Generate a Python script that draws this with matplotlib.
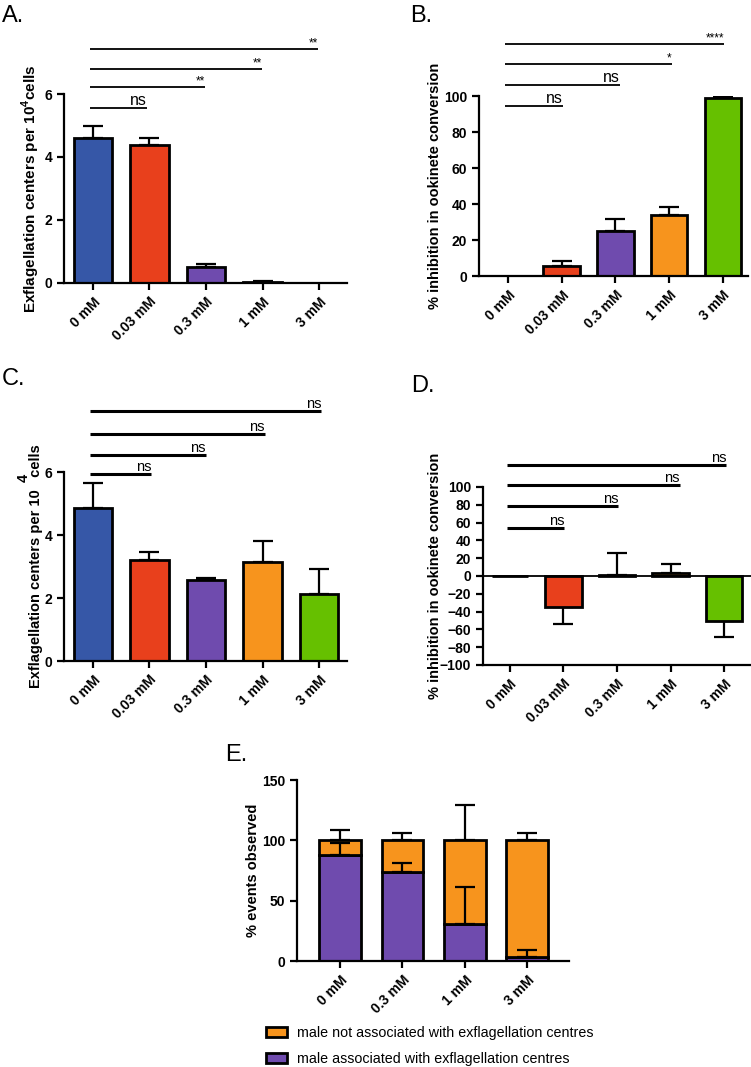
import matplotlib.pyplot as plt
import numpy as np

plt.rcParams['font.family'] = ['Liberation Sans', 'DejaVu Sans']
plt.rcParams['mathtext.fontset'] = 'custom'
plt.rcParams['mathtext.rm'] = 'Liberation Sans'
plt.rcParams['mathtext.bf'] = 'Liberation Sans:bold'

##---- data
doses = ['0 mM', '0.03 mM', '0.3 mM', '1 mM', '3 mM']
doses_e = ['0 mM', '0.3 mM', '1 mM', '3 mM']
colors = ['#3657a7', '#e8401c', '#6f4bae', '#f7941d', '#66c000']
purple = '#6f4bae'
orange = '#f7941d'

# A. exflagellation centres
exfl_a = [4.6, 4.38, 0.5, 0.03, 0.0]
exfl_a_top = [4.97, 4.6, 0.6, 0.05, 0.0]
sig_a_y = [5.56, 6.22, 6.79, 7.43]
sig_a_end = [0.95, 1.98, 2.98, 3.98]
sig_a_txt = ['ns', '**', '**', '**']

# B. % inhibition in ookinete conversion
inh_b = [0, 5.8, 25, 34, 99]
inh_b_top = [0, 8.5, 31.5, 38.5, 99.8]
sig_b_y = [94.4, 106, 117.8, 128.9]
sig_b_end = [1.02, 2.08, 3.05, 4.02]
sig_b_txt = ['ns', 'ns', '*', '****']

# C. exflagellation centres
exfl_c = [4.85, 3.22, 2.58, 3.15, 2.14]
exfl_c_top = [5.65, 3.45, 2.65, 3.8, 2.93]
sig_c_y = [5.94, 6.54, 7.2, 7.94]
sig_c_end = [1.03, 2.0, 3.04, 4.04]
sig_c_txt = ['ns', 'ns', 'ns', 'ns']

# D. % inhibition in ookinete conversion
inh_d = [0, -35, 1, 3, -51]
inh_d_err = [0, -54, 26, 14, -69]
sig_d_y = [54, 79, 102, 125]
sig_d_end = [1.02, 2.02, 3.17, 4.04]
sig_d_txt = ['ns', 'ns', 'ns', 'ns']

# E. % events observed
assoc = [88, 74, 31, 3]
assoc_top = [98, 81, 61, 9]
total_top = [109, 106, 129, 106]

TICK_FS = 10
LABEL_FS = 10.5


def style_axes(ax):
    ax.spines['top'].set_visible(False)
    ax.spines['right'].set_visible(False)
    ax.spines['left'].set_linewidth(1.6)
    ax.spines['bottom'].set_linewidth(1.6)
    ax.tick_params(direction='out', length=5, width=1.6, labelsize=TICK_FS)
    for lbl in ax.get_yticklabels():
        lbl.set_fontweight('bold')


def bar_panel(ax, values, tops):
    x = np.arange(len(values))
    ax.bar(x, values, width=0.68, color=colors[:len(values)], edgecolor='black', linewidth=2, zorder=2)
    values = np.array(values, dtype=float)
    tops = np.array(tops, dtype=float)
    up = np.where(tops > values, tops - values, 0)
    down = np.where(tops < values, values - tops, 0)
    keep = tops != values
    ax.errorbar(x[keep], values[keep], yerr=[down[keep], up[keep]], fmt='none', ecolor='black',
                elinewidth=1.6, capsize=7, capthick=1.6, zorder=1)
    ax.set_xticks(x)
    ax.set_xticklabels(doses, rotation=45, ha='right', rotation_mode='anchor', fontweight='bold', fontsize=TICK_FS)


def sig_lines(ax, ys, ends, texts, lw, fs, start=-0.05):
    for y, e, t in zip(ys, ends, texts):
        ax.plot([start, e], [y, y], color='black', lw=lw, clip_on=False, solid_capstyle='butt')
        ax.text(e, y, t, ha='right', va='bottom', fontsize=fs if t == 'ns' else 8.5, clip_on=False)


fig = plt.figure(figsize=(7.51, 10.67), dpi=100)

##---- A
axA = fig.add_axes([0.0852, 0.7348, 0.3768, 0.1771])
bar_panel(axA, exfl_a, exfl_a_top)
axA.set_xlim(-0.51, 4.49)
axA.set_ylim(0, 6)
axA.set_yticks([0, 2, 4, 6])
style_axes(axA)
sig_lines(axA, sig_a_y, sig_a_end, sig_a_txt, 1.3, 11.5)
axA.set_ylabel(r'Exflagellation centers per 10$^{\mathbf{4}}$cells', fontsize=LABEL_FS + 0.5, fontweight='bold')
axA.yaxis.set_label_coords(-0.078, 0.5)

##---- B
axB = fig.add_axes([0.6378, 0.7413, 0.3582, 0.1687])
bar_panel(axB, inh_b, inh_b_top)
axB.set_xlim(-0.54, 4.47)
axB.set_ylim(0, 100)
axB.set_yticks([0, 20, 40, 60, 80, 100])
style_axes(axB)
sig_lines(axB, sig_b_y, sig_b_end, sig_b_txt, 1.3, 11.5)
axB.set_ylabel('% inhibition in ookinete conversion', fontsize=LABEL_FS, fontweight='bold')
axB.yaxis.set_label_coords(-0.138, 0.5)

##---- C
axC = fig.add_axes([0.0852, 0.3805, 0.3768, 0.1771])
bar_panel(axC, exfl_c, exfl_c_top)
axC.set_xlim(-0.51, 4.49)
axC.set_ylim(0, 6)
axC.set_yticks([0, 2, 4, 6])
style_axes(axC)
sig_lines(axC, sig_c_y, sig_c_end, sig_c_txt, 2.2, 10.5)
axC.set_ylabel('Exflagellation centers per 10   cells', fontsize=LABEL_FS, fontweight='bold')
axC.yaxis.set_label_coords(-0.074, 0.5)
fig.text(23.5 / 751, 1 - 478 / 1067, '4', rotation=90, fontsize=LABEL_FS, fontweight='bold', ha='center', va='center')

##---- D
axD = fig.add_axes([0.6431, 0.3768, 0.3569, 0.1668])
bar_panel(axD, inh_d, inh_d_err)
axD.axhline(0, color='black', lw=1.3, zorder=3)
axD.set_xlim(-0.5, 4.5)
axD.set_ylim(-100, 100)
axD.set_yticks(np.arange(-100, 101, 20))
style_axes(axD)
sig_lines(axD, sig_d_y, sig_d_end, sig_d_txt, 2.2, 10.5)
axD.set_ylabel('% inhibition in ookinete conversion', fontsize=LABEL_FS, fontweight='bold')
axD.yaxis.set_label_coords(-0.153, 0.5)

##---- E
axE = fig.add_axes([0.3955, 0.0993, 0.3622, 0.1696])
xe = np.arange(len(doses_e))
not_assoc = [100 - v for v in assoc]
axE.bar(xe, assoc, width=0.67, color=purple, edgecolor='black', linewidth=2, zorder=2)
axE.bar(xe, not_assoc, width=0.67, bottom=assoc, color=orange, edgecolor='black', linewidth=2, zorder=2)
axE.errorbar(xe, assoc, yerr=[np.zeros(4), np.array(assoc_top) - np.array(assoc)], fmt='none',
             ecolor='black', elinewidth=1.6, capsize=7, capthick=1.6, zorder=3)
axE.errorbar(xe, [100] * 4, yerr=[np.zeros(4), np.array(total_top) - 100], fmt='none',
             ecolor='black', elinewidth=1.6, capsize=7, capthick=1.6, zorder=1)
axE.set_xticks(xe)
axE.set_xticklabels(doses_e, rotation=45, ha='right', rotation_mode='anchor', fontweight='bold', fontsize=TICK_FS)
axE.set_xlim(-0.69, 3.67)
axE.set_ylim(0, 150)
axE.set_yticks([0, 50, 100, 150])
style_axes(axE)
axE.set_ylabel('% events observed', fontsize=LABEL_FS, fontweight='bold')
axE.yaxis.set_label_coords(-0.136, 0.5)

# legend
h1 = plt.Rectangle((0, 0), 1, 1, facecolor=orange, edgecolor='black', linewidth=2)
h2 = plt.Rectangle((0, 0), 1, 1, facecolor=purple, edgecolor='black', linewidth=2)
fig.legend([h1, h2], ['male not associated with exflagellation centres', 'male associated with exflagellation centres'],
           loc='upper left', bbox_to_anchor=(266 / 751, 1 - 1026 / 1067), frameon=False, fontsize=10.3,
           borderpad=0, borderaxespad=0, handlelength=1.5, handleheight=0.7, handletextpad=0.7,
           labelspacing=0.82)

##---- panel letters
fig.text(2 / 751, 1 - 22 / 1067, 'A.', fontsize=17, va='baseline')
fig.text(410 / 751, 1 - 22 / 1067, 'B.', fontsize=17, va='baseline')
fig.text(2 / 751, 1 - 385 / 1067, 'C.', fontsize=17, va='baseline')
fig.text(411 / 751, 1 - 392 / 1067, 'D.', fontsize=17, va='baseline')
fig.text(225 / 751, 1 - 761 / 1067, 'E.', fontsize=17, va='baseline')

plt.savefig('out.png', dpi=100)
